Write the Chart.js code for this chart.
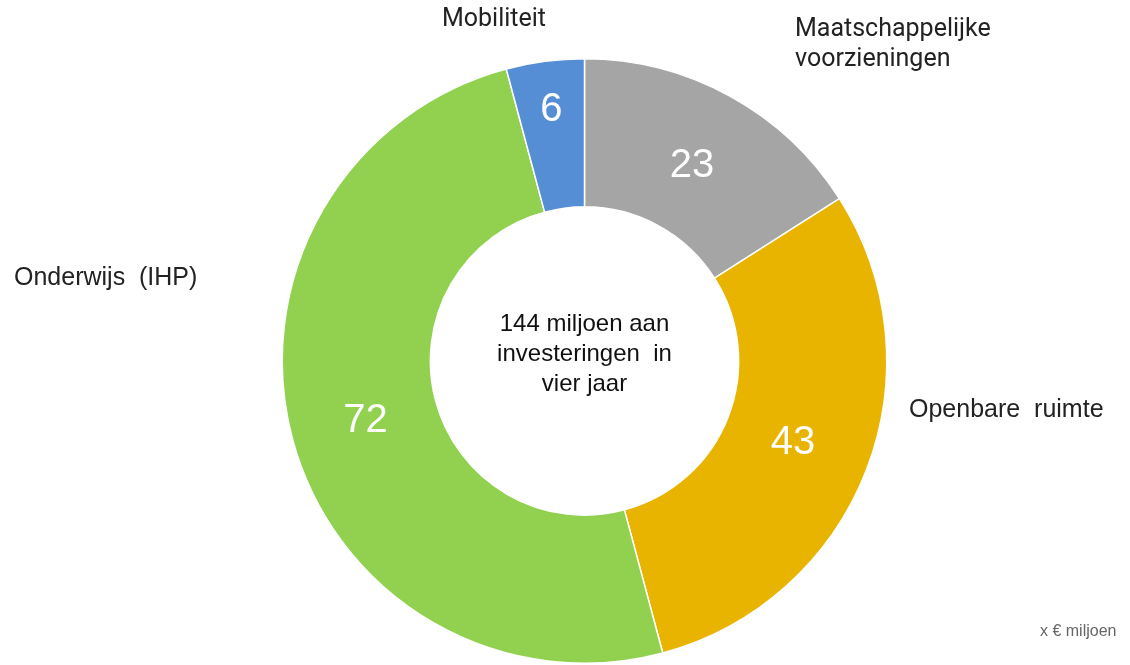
<!DOCTYPE html>
<html>
<head>
<meta charset="utf-8">
<script src="https://cdn.jsdelivr.net/npm/chart.js@4.4.1/dist/chart.umd.min.js"></script>
<style>
html,body{margin:0;padding:0;background:#fff;}
#wrap{position:relative;width:1130px;height:665px;}
</style>
</head>
<body>
<div id="wrap"><canvas id="c" width="1130" height="665"></canvas></div>
<script>
const categories = ["Maatschappelijke voorzieningen", "Openbare ruimte", "Onderwijs (IHP)", "Mobiliteit"];
const values = [23, 43, 72, 6];
const colors = ["#A5A5A5", "#E8B400", "#92D050", "#558ED5"];
const centerText = ["144 miljoen aan", "investeringen  in", "vier jaar"];
const unitText = "x € miljoen";

const labelPos = [
  {x: 795, y: 30, lines: ["Maatschappelijke", "voorzieningen"], font: "25px Roboto", align: "left"},
  {x: 909, y: 410, lines: ["Openbare  ruimte"], font: "25px 'Liberation Sans'", align: "left"},
  {x: 14, y: 278, lines: ["Onderwijs  (IHP)"], font: "25px 'Liberation Sans'", align: "left"},
  {x: 442, y: 20, lines: ["Mobiliteit"], font: "25px Roboto", align: "left"}
];
const valueRadius = [0.74, 0.74, 0.75, 0.84];

const overlay = {
  id: 'overlay',
  afterDatasetsDraw(chart) {
    const ctx = chart.ctx;
    const meta = chart.getDatasetMeta(0);
    ctx.save();
    meta.data.forEach((arc, i) => {
      const p = arc.getProps(['x','y','startAngle','endAngle','outerRadius'], true);
      const mid = (p.startAngle + p.endAngle) / 2;
      const r = p.outerRadius * valueRadius[i];
      ctx.fillStyle = '#fff';
      ctx.font = "40px 'Liberation Sans'";
      ctx.textAlign = 'center';
      ctx.textBaseline = 'middle';
      ctx.fillText(String(values[i]), p.x + Math.cos(mid) * r, p.y + Math.sin(mid) * r + 1);
      const lp = labelPos[i];
      ctx.fillStyle = '#222';
      ctx.font = lp.font;
      ctx.textAlign = lp.align;
      lp.lines.forEach((t, k) => ctx.fillText(t, lp.x, lp.y + k * 30));
    });
    const c = meta.data[0];
    ctx.fillStyle = '#111';
    ctx.font = "24px 'Liberation Sans'";
    ctx.textAlign = 'center';
    centerText.forEach((t, k) => ctx.fillText(t, c.x, 324 + k * 30));
    ctx.fillStyle = '#666';
    ctx.font = "16px 'Liberation Sans'";
    ctx.textAlign = 'left';
    ctx.fillText(unitText, 1040, 632);
    ctx.restore();
  }
};

new Chart(document.getElementById('c'), {
  type: 'doughnut',
  data: {
    labels: categories,
    datasets: [{
      data: values,
      backgroundColor: colors,
      borderColor: '#fff',
      borderWidth: 1.5,
      hoverOffset: 0
    }]
  },
  options: {
    responsive: false,
    animation: false,
    cutout: '51%',
    layout: {padding: {top: 58, bottom: 1, left: 39, right: 0}},
    plugins: {legend: {display: false}, tooltip: {enabled: false}}
  },
  plugins: [overlay]
});
</script>
</body>
</html>
